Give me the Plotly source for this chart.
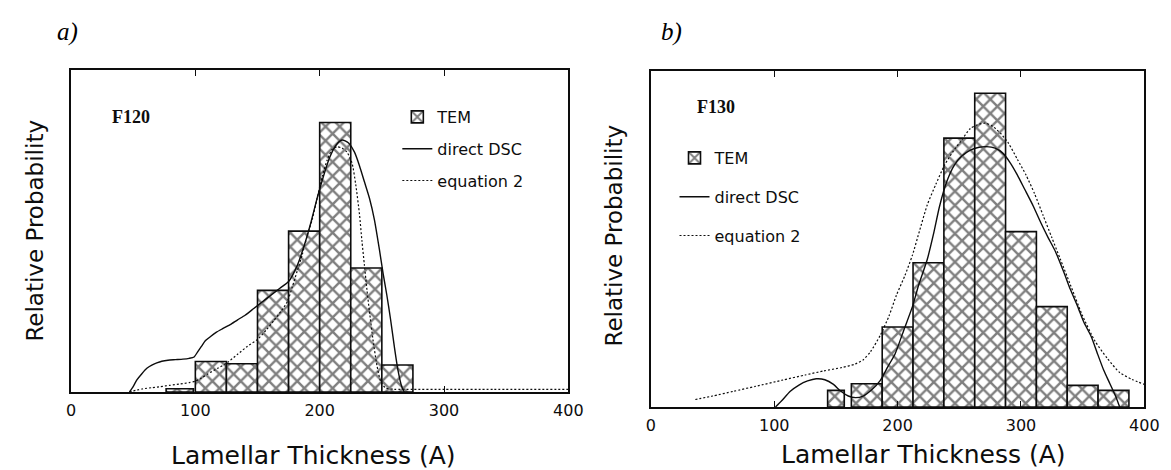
import plotly.graph_objects as go

W, H = 1171, 470

# ---------------- Panel a) F120 ----------------
a_bin_centers = [87.5, 112.5, 137.5, 162.5, 187.5, 212.5, 237.5, 262.5]
a_bin_widths = [22, 25, 25, 25, 25, 25, 25, 25]
a_tem = [0.012, 0.113, 0.105, 0.377, 0.597, 1.0, 0.46, 0.10]

a_dsc_x = [47, 50, 53, 57, 61, 65, 69, 73, 78, 84, 90, 95, 99, 102, 105, 108, 112, 117,
           122, 128, 134, 140, 147, 154, 161, 168, 175, 182, 188, 193, 198, 203, 208, 213,
           218, 223, 228, 232, 236, 240, 244, 248, 251, 254, 257, 260, 263, 266, 268]
a_dsc_y = [0, 0.02, 0.045, 0.068, 0.088, 0.1, 0.108, 0.114, 0.118, 0.12, 0.122, 0.125, 0.13,
           0.15, 0.17, 0.19, 0.205, 0.222, 0.235, 0.25, 0.268, 0.285, 0.31, 0.335, 0.36, 0.385,
           0.41, 0.47, 0.55, 0.63, 0.72, 0.8, 0.87, 0.915, 0.935, 0.925, 0.89, 0.84, 0.78, 0.72,
           0.64, 0.53, 0.44, 0.36, 0.27, 0.17, 0.08, 0.02, 0]

a_eq2_x = [47, 52, 58, 65, 72, 80, 88, 95, 100, 105, 110, 118, 126, 134, 142, 150, 157, 163,
           169, 174, 178, 182, 186, 190, 194, 198, 202, 206, 210, 214, 218, 222, 226, 229, 232,
           234, 236, 238, 240, 243, 246, 249, 253, 260, 275, 300, 340, 400]
a_eq2_y = [0, 0.006, 0.012, 0.016, 0.02, 0.025, 0.03, 0.035, 0.04, 0.052, 0.067, 0.088, 0.11,
           0.14, 0.17, 0.195, 0.23, 0.264, 0.3, 0.335, 0.39, 0.45, 0.51, 0.58, 0.64, 0.72, 0.8,
           0.86, 0.9, 0.91, 0.905, 0.89, 0.85, 0.77, 0.66, 0.56, 0.47, 0.38, 0.3, 0.19, 0.1,
           0.04, 0.015, 0.01, 0.01, 0.01, 0.01, 0.01]

# ---------------- Panel b) F130 ----------------
b_bin_centers = [150, 175, 200, 225, 250, 275, 300, 325, 350, 375]
b_bin_widths = [13.5, 25, 25, 25, 25, 25, 25, 25, 25, 25]
b_tem = [0.053, 0.074, 0.255, 0.46, 0.857, 1.0, 0.559, 0.32, 0.069, 0.053]

b_dsc_x = [101, 106, 113, 120, 127, 134, 141, 148, 154, 160, 166, 172, 179, 186, 192, 198,
           205, 212, 217, 224, 229, 234, 240, 246, 252, 259, 266, 272, 279, 285, 291, 297,
           303, 310, 316, 322, 328, 335, 340, 346, 351, 357, 362, 367, 372, 377, 380]
b_dsc_y = [0, 0.02, 0.05, 0.07, 0.083, 0.09, 0.087, 0.072, 0.05, 0.035, 0.03, 0.035, 0.055,
           0.085, 0.128, 0.17, 0.245, 0.32, 0.388, 0.47, 0.55, 0.64, 0.72, 0.771, 0.8, 0.819,
           0.828, 0.83, 0.825, 0.81, 0.78, 0.74, 0.694, 0.64, 0.588, 0.54, 0.495, 0.427, 0.375,
           0.32, 0.27, 0.224, 0.17, 0.118, 0.075, 0.032, 0]

b_eq2_x = [36, 50, 67, 85, 107, 125, 140, 155, 165, 172, 178, 186, 193, 199, 206, 212, 218,
           224, 231, 238, 245, 251, 259, 265, 271, 277, 284, 290, 297, 304, 311, 318, 325, 332,
           340, 350, 360, 370, 380, 390, 400]
b_eq2_y = [0.024, 0.035, 0.05, 0.066, 0.086, 0.102, 0.115, 0.126, 0.136, 0.15, 0.176, 0.229,
           0.29, 0.356, 0.42, 0.484, 0.565, 0.644, 0.71, 0.771, 0.815, 0.846, 0.888, 0.9, 0.905,
           0.895, 0.87, 0.84, 0.79, 0.74, 0.68, 0.61, 0.54, 0.47, 0.39, 0.29, 0.21, 0.155, 0.11,
           0.088, 0.072]

x_ticks = [0, 100, 200, 300, 400]
x_title = "Lamellar Thickness (A)"
y_title = "Relative Probability"
series_names = ["TEM", "direct DSC", "equation 2"]

INK = "#0d0d0d"
SANS = "DejaVu Sans"


def px(x):
    return x / W


def py(y):
    return 1 - y / H


hatch = dict(shape="x", size=10, solidity=0.42, fgcolor="black", bgcolor="white")

fig = go.Figure()

panels = [
    ("x", "y", "legend", a_bin_centers, a_bin_widths, a_tem, a_dsc_x, a_dsc_y, a_eq2_x, a_eq2_y),
    ("x2", "y2", "legend2", b_bin_centers, b_bin_widths, b_tem, b_dsc_x, b_dsc_y, b_eq2_x, b_eq2_y),
]
for i, (xa, ya, lg, bc, bw, tem, dx, dy, ex, ey) in enumerate(panels):
    fig.add_trace(go.Bar(
        x=bc, y=tem, width=bw, name=series_names[0], xaxis=xa, yaxis=ya, legend=lg,
        legendgroup=f"{lg}_tem",
        marker=dict(color="white", line=dict(color=INK, width=1.6), pattern=hatch),
    ))
    fig.add_trace(go.Scatter(
        x=dx, y=dy, mode="lines", name=series_names[1], xaxis=xa, yaxis=ya, legend=lg,
        legendgroup=f"{lg}_dsc", line=dict(color=INK, width=1.4, shape="spline", smoothing=0.6),
    ))
    fig.add_trace(go.Scatter(
        x=ex, y=ey, mode="lines", name=series_names[2], xaxis=xa, yaxis=ya, legend=lg,
        legendgroup=f"{lg}_eq2",
        line=dict(color=INK, width=1.2, dash="2px,2px", shape="spline", smoothing=0.6),
    ))

xcommon = dict(range=[0, 400], tickvals=x_ticks, ticks="inside", ticklen=6, tickwidth=1.2,
               tickcolor=INK, showline=True, linewidth=1.6, linecolor=INK, mirror="ticks",
               showgrid=False, zeroline=False, ticklabelstandoff=3,
               tickfont=dict(family=SANS, size=16, color=INK))
ycommon = dict(showticklabels=False, ticks="", showline=True, linewidth=1.6, linecolor=INK,
               mirror=True, showgrid=False, zeroline=False)

legcommon = dict(xanchor="left", yanchor="top", bgcolor="rgba(0,0,0,0)",
                 font=dict(family=SANS, size=16, color=INK), itemwidth=30,
                 traceorder="grouped")

fig.update_layout(
    width=W, height=H, margin=dict(l=0, r=0, t=0, b=0),
    paper_bgcolor="white", plot_bgcolor="white",
    barmode="overlay",
    xaxis=dict(domain=[px(59), px(565)], anchor="y", **xcommon),
    yaxis=dict(domain=[py(384), py(62)], range=[0, 1.195], anchor="x", **ycommon),
    xaxis2=dict(domain=[px(649), px(1151)], anchor="y2", **xcommon),
    yaxis2=dict(domain=[py(399), py(63)], range=[0, 1.071], anchor="x2", **ycommon),
    legend=dict(x=px(391), y=py(92), tracegroupgap=8, **legcommon),
    legend2=dict(x=px(673), y=py(133), tracegroupgap=15, **legcommon),
    showlegend=True,
)

annots = [
    dict(text="<i>a)</i>", x=px(55), y=py(24), font=dict(family="Liberation Serif", size=25, color="black")),
    dict(text="<i>b)</i>", x=px(670), y=py(24), font=dict(family="Liberation Serif", size=25, color="black")),
    dict(text="<b>F120</b>", x=px(120), y=py(109), font=dict(family="Liberation Serif", size=18, color=INK)),
    dict(text="<b>F130</b>", x=px(715), y=py(99), font=dict(family="Liberation Serif", size=18, color=INK)),
    dict(text=x_title, x=px(306), y=py(447), font=dict(family=SANS, size=25, color=INK)),
    dict(text=x_title, x=px(926), y=py(446), font=dict(family=SANS, size=25, color=INK)),
    dict(text=y_title, x=px(22), y=py(223), textangle=-90, font=dict(family=SANS, size=23, color=INK)),
    dict(text=y_title, x=px(611), y=py(228), textangle=-90, font=dict(family=SANS, size=23, color=INK)),
]
for a in annots:
    fig.add_annotation(xref="paper", yref="paper", showarrow=False,
                       xanchor="center", yanchor="middle", **a)

fig.write_html("out.html")
